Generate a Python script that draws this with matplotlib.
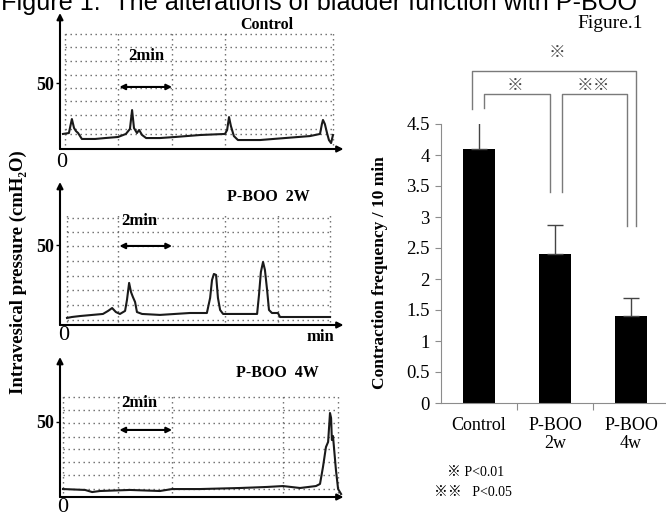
import matplotlib
matplotlib.use('Agg')
import matplotlib.pyplot as plt
import numpy as np

W, H = 666, 516
SERIF = ['Liberation Serif', 'DejaVu Serif', 'Noto Sans CJK JP']

# cystometry traces: time (min), intravesical pressure (cmH2O)
ctrl_t = [0.11, 0.33, 0.44, 0.52, 0.59, 0.67, 0.81, 1.30, 1.67, 2.15, 2.44, 2.59, 2.67,
          2.74, 2.85, 2.93, 3.04, 3.19, 3.70, 4.26, 5.19, 6.11, 6.19, 6.26, 6.33, 6.44,
          6.59, 7.41, 8.33, 9.26, 9.63, 9.70, 9.74, 9.81, 9.89, 9.96, 10.04, 10.11]
ctrl_p = [11.4, 12.1, 22.7, 15.9, 13.6, 12.1, 7.6, 7.6, 8.3, 9.1, 11.4, 15.2, 29.5,
          15.9, 12.1, 14.4, 10.6, 8.3, 8.3, 9.1, 10.6, 11.4, 14.4, 24.2, 17.4, 9.8,
          6.8, 6.8, 8.3, 9.8, 11.4, 18.9, 22.0, 18.9, 12.1, 6.8, 4.5, 10.6]

boo2_t = [0.26, 0.44, 0.74, 1.59, 1.78, 1.93, 2.07, 2.22, 2.41, 2.48, 2.56, 2.63, 2.70,
          2.78, 2.85, 3.04, 3.70, 4.81, 5.44, 5.56, 5.63, 5.70, 5.78, 5.85, 5.93, 6.04,
          7.30, 7.37, 7.44, 7.52, 7.59, 7.67, 7.74, 7.85, 8.07, 8.15, 10.0]
boo2_p = [4.4, 5.0, 5.6, 6.9, 8.8, 10.6, 8.1, 6.9, 8.8, 15.6, 26.3, 20.6, 17.5,
          14.4, 8.1, 6.9, 6.3, 7.5, 7.5, 16.9, 28.1, 31.9, 31.3, 16.9, 9.4, 6.9,
          6.9, 18.8, 33.1, 39.4, 34.4, 21.9, 9.4, 7.5, 7.5, 5.0, 5.0]

boo4_t = [0.11, 0.93, 1.19, 1.48, 2.59, 3.70, 4.15, 5.19, 6.67, 7.67, 8.26, 8.89, 9.48,
          9.63, 9.74, 9.85, 9.93, 10.0, 10.04, 10.07, 10.11, 10.22, 10.30, 10.41]
boo4_p = [5.3, 4.7, 3.3, 4.0, 4.7, 4.0, 5.3, 5.3, 6.0, 6.7, 7.3, 6.0, 7.3,
          8.7, 20.0, 33.3, 36.7, 56.0, 52.7, 38.0, 40.7, 18.0, 5.3, 2.0]

# contraction frequency bar chart
groups = ['Control', 'P-BOO\n2w', 'P-BOO\n4w']
freq = [4.1, 2.4, 1.4]
freq_err = [0.43, 0.47, 0.30]


def fpx(x, y):
    return x / W, 1 - y / H


fig = plt.figure(figsize=(W / 100, H / 100), dpi=100)

fig.text(*fpx(1, 10), 'Figure 1:  The alterations of bladder function with P-BOO',
         family='Liberation Sans', fontsize=18.2, va='baseline', ha='left')


def trace_panel(axis_y, top_y, yscale, t, p, vl, rows, box, label, label_xy,
                arrow_p, min_xy, zero_off):
    x0, x1 = 60, 60 + 10.5 * 27
    ax = fig.add_axes([x0 / W, 1 - axis_y / H, (x1 - x0) / W, (axis_y - top_y) / H])
    ax.set_xlim(0, 10.5)
    ax.set_ylim(0, (axis_y - top_y) / yscale)
    for s in ax.spines.values():
        s.set_visible(False)
    ax.patch.set_alpha(0)

    # chart paper
    ax.vlines(vl, box[2], box[3], colors='#666', linestyles=(0, (1, 2.6)), lw=1.0)
    ax.hlines(rows, box[0], box[1], colors='#666', linestyles=(0, (1, 2.6)), lw=1.0)

    ax.plot(t, p, color='#1a1a1a', lw=1.5, zorder=3)

    ap = dict(arrowstyle='-|>', lw=1.5, color='black', mutation_scale=9, shrinkA=0, shrinkB=0)
    ax.annotate('', xy=(1, 0), xytext=(0, 0), xycoords='axes fraction', arrowprops=ap)
    ax.annotate('', xy=(0, 1), xytext=(0, 0), xycoords='axes fraction', arrowprops=ap)

    ax.annotate('', xy=(4.15, arrow_p), xytext=(2.2, arrow_p),
                arrowprops=dict(arrowstyle='<|-|>', lw=1.5, color='black',
                                mutation_scale=8, shrinkA=0, shrinkB=0))
    fig.text(*fpx(*min_xy), '2min', family=SERIF, fontweight='bold', fontsize=12,
             ha='center', va='center')
    fig.text(*fpx(*label_xy), label, family=SERIF, fontweight='bold', fontsize=11.5,
             ha='center', va='center')

    ax.set_xticks([])
    ax.set_yticks([50])
    ax.set_yticklabels(['50'], family=SERIF, fontweight='bold', fontsize=13)
    ax.tick_params(axis='y', length=3, width=1, pad=1)
    ax.annotate('0', xy=(0, 0), xycoords='axes fraction', xytext=zero_off,
                textcoords='offset pixels', family=SERIF, fontsize=16,
                ha='center', va='center')
    return ax


trace_panel(149, 13, 1.32, ctrl_t, ctrl_p,
            [0.19, 2.15, 4.15, 6.11, 10.11],
            [87.1, 76.9, 66.7, 56.4, 46.2, 36.0, 25.8, 15.5, 11.0],
            (0.19, 10.11, 3.0, 88.6), 'Control', (267, 25), 47, (146, 56), (2, -13))
trace_panel(325, 182, 1.6, boo2_t, boo2_p,
            [0.26, 2.15, 6.11, 8.07, 10.0],
            [66.9, 58.1, 49.1, 40.0, 30.6, 21.6, 12.2, 3.1],
            (0.26, 10.0, 1.9, 70.0), 'P-BOO  2W', (268, 197), 49.4, (139, 221), (4, -10))
fig.text(*fpx(320, 337), 'min', family=SERIF, fontweight='bold', fontsize=12,
         ha='center', va='center')
trace_panel(497, 357, 1.5, boo4_t, boo4_p,
            [0.11, 2.15, 4.15, 8.26, 10.30],
            [66.7, 58.3, 49.3, 40.3, 31.7, 23.3, 14.7, 5.3],
            (0.11, 10.30, 2.7, 68.0), 'P-BOO  4W', (277, 373), 44.7, (139, 403), (3, -10))

fig.text(*fpx(18, 272), 'Intravesical pressure (cmH\u2082O)', family=SERIF,
         fontweight='bold', fontsize=13.5, rotation=90, ha='center', va='center')

# bar chart
bx = fig.add_axes([441 / W, 1 - 403 / H, 225 / W, 279 / H])
pos = np.arange(len(groups))
bx.bar(pos, freq, width=0.41, color='black',
       yerr=[np.zeros(len(freq)), freq_err],
       error_kw=dict(ecolor='#444', elinewidth=1, capsize=6, capthick=1))
bx.set_xlim(-0.5, 2.46)
bx.set_ylim(0, 4.5)
for s in ['top', 'right']:
    bx.spines[s].set_visible(False)
for s in ['left', 'bottom']:
    bx.spines[s].set_color('#8c8c8c')
yt = np.arange(0, 4.51, 0.5)
bx.set_yticks(yt)
bx.set_yticklabels([f'{v:g}' for v in yt], family=SERIF, fontsize=13.5)
bx.tick_params(axis='y', length=4, color='#8c8c8c', pad=4)
bx.set_xticks([0.5, 1.5])
bx.set_xticklabels([])
bx.tick_params(axis='x', which='major', length=5, color='#8c8c8c')
bx.set_xticks(pos, minor=True)
bx.set_xticklabels(groups, minor=True, family=SERIF, fontsize=13, linespacing=1.1)
bx.tick_params(axis='x', which='minor', length=0, pad=10)

# significance brackets
bk = dict(color='#7a7a7a', lw=1, clip_on=False)
bx.plot([-0.09, -0.09, 2.07, 2.07], [4.74, 5.35, 5.35, 2.85], **bk)
bx.plot([0.066, 0.066, 0.93, 0.93], [4.76, 4.98, 4.98, 3.40], **bk)
bx.plot([1.09, 1.09, 1.95, 1.95], [3.40, 4.98, 4.98, 2.85], **bk)
mk = dict(family=SERIF, fontsize=12, ha='center', va='center', color='#444')
fig.text(*fpx(557, 53), '\u203b', **mk)
fig.text(*fpx(515, 86), '\u203b', **mk)
fig.text(*fpx(593, 86), '\u203b\u203b', **mk)

fig.text(*fpx(610, 24), 'Figure.1', family=SERIF, fontsize=14, ha='center', va='center')
fig.text(*fpx(380, 273), 'Contraction frequency / 10 min', family=SERIF,
         fontweight='bold', fontsize=12.5, rotation=90, ha='center', va='center')
fig.text(*fpx(447, 473), '\u203b P<0.01', family=SERIF, fontsize=10, ha='left', va='center')
fig.text(*fpx(434, 492), '\u203b\u203b   P<0.05', family=SERIF, fontsize=10, ha='left', va='center')

fig.savefig('out.png', dpi=100)
